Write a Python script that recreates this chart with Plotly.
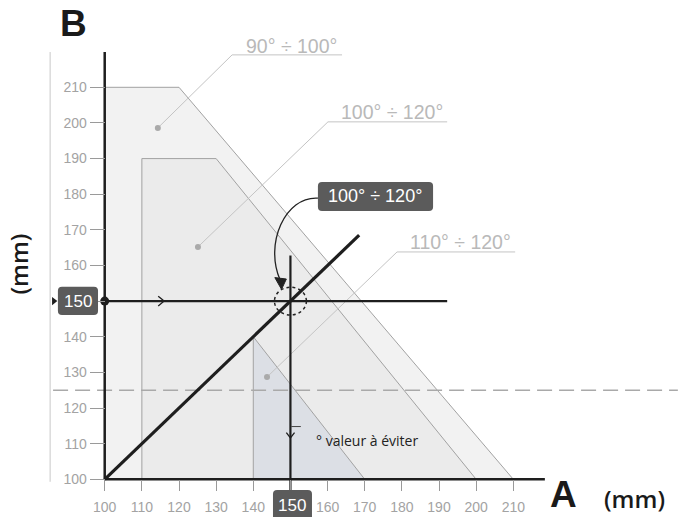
import plotly.graph_objects as go

# ---------------- data ----------------
tick_vals = [100, 110, 120, 130, 140, 150, 160, 170, 180, 190, 200, 210]
tick_text = [str(v) if v != 150 else "" for v in tick_vals]

# zones (A, B in mm)
zone1_x = [100, 100, 120, 210]          # 90° ÷ 100°
zone1_y = [100, 210, 210, 100]
zone2_x = [110, 110, 130, 200]          # 100° ÷ 120°
zone2_y = [100, 190, 190, 100]
zone3_x = [140, 140, 170]               # 110° ÷ 120°
zone3_y = [100, 140, 100]

zone_labels = ["90° ÷ 100°", "100° ÷ 120°", "110° ÷ 120°"]
label_x = [150.2, 177.4, 195.7]
label_y = [221.6, 203.1, 166.6]
leader_x = [[114.3, 134.3, 163.9], [125.1, 160.1, 192.2], [143.7, 178.7, 210.5]]
leader_y = [[198.6, 219.1, 219.1], [165.2, 200.3, 200.3], [128.7, 163.8, 163.8]]

# example reading A=150, B=150
ex_A = 150
ex_B = 150
diag_x = [100, 168.5]
diag_y = [100, 168.5]
hline_x = [100, 192.2]
vline_y = [97.0, 162.8]
limit_B = 125          # dashed limit
axis_top = 219.9
axis_right = 218.5

fig = go.Figure()

GRAY_EDGE = "#a2a2a2"
fills = [("#f2f2f2", zone1_x, zone1_y), ("#ebebeb", zone2_x, zone2_y), ("#dcdfe5", zone3_x, zone3_y)]
for col, xs, ys in fills:
    fig.add_trace(go.Scatter(x=xs + [xs[0]], y=ys + [ys[0]], mode="lines", fill="toself",
                             fillcolor=col, line=dict(color=GRAY_EDGE, width=1), hoverinfo="skip"))

# left thin gray line
fig.add_trace(go.Scatter(x=[85.3, 85.3], y=[99.3, axis_top], mode="lines",
                         line=dict(color="#c8c8c8", width=1), hoverinfo="skip"))

# leaders
for lx, ly in zip(leader_x, leader_y):
    fig.add_trace(go.Scatter(x=lx, y=ly, mode="lines", line=dict(color="#c4c4c4", width=1), hoverinfo="skip"))
    fig.add_trace(go.Scatter(x=[lx[0]], y=[ly[0]], mode="markers",
                             marker=dict(color="#aaaaaa", size=6), hoverinfo="skip"))

# dashed limit line
fig.add_trace(go.Scatter(x=[86.1, 254.3], y=[limit_B, limit_B], mode="lines",
                         line=dict(color="#a9a9a9", width=1.5, dash="15px,7px"), hoverinfo="skip"))

# axes lines
fig.add_trace(go.Scatter(x=[100, 100], y=[axis_top, 100], mode="lines",
                         line=dict(color="#1e1e1e", width=2.5), hoverinfo="skip"))
fig.add_trace(go.Scatter(x=[100, axis_right], y=[100, 100], mode="lines",
                         line=dict(color="#1e1e1e", width=2.5), hoverinfo="skip"))

# reading lines
fig.add_trace(go.Scatter(x=diag_x, y=diag_y, mode="lines", line=dict(color="#1e1e1e", width=3.2), hoverinfo="skip"))
fig.add_trace(go.Scatter(x=hline_x, y=[ex_B, ex_B], mode="lines", line=dict(color="#1e1e1e", width=2.2), hoverinfo="skip"))
fig.add_trace(go.Scatter(x=[ex_A, ex_A], y=vline_y, mode="lines", line=dict(color="#1e1e1e", width=2.2), hoverinfo="skip"))
fig.add_trace(go.Scatter(x=[100], y=[ex_B], mode="markers", marker=dict(color="#1e1e1e", size=9), hoverinfo="skip"))
fig.add_trace(go.Scatter(x=[86.3], y=[ex_B], mode="markers", cliponaxis=False,
                         marker=dict(color="#1e1e1e", size=7, symbol="triangle-right"), hoverinfo="skip"))

# chevrons on reading lines
fig.add_trace(go.Scatter(x=[114.4, 116.0, 114.4], y=[151.4, 150, 148.6], mode="lines",
                         line=dict(color="#1e1e1e", width=1.3), hoverinfo="skip"))
fig.add_trace(go.Scatter(x=[148.9, 150, 151.1], y=[113.1, 111.6, 113.1], mode="lines",
                         line=dict(color="#1e1e1e", width=1.3), hoverinfo="skip"))
fig.add_trace(go.Scatter(x=[150.2, 152.8], y=[114.8, 114.8], mode="lines",
                         line=dict(color="#444", width=1), hoverinfo="skip"))


def rrect(x0, y0, x1, y1, rx, ry):
    return (f"M {x0+rx},{y0} L {x1-rx},{y0} Q {x1},{y0} {x1},{y0+ry} L {x1},{y1-ry} "
            f"Q {x1},{y1} {x1-rx},{y1} L {x0+rx},{y1} Q {x0},{y1} {x0},{y1-ry} "
            f"L {x0},{y0+ry} Q {x0},{y0} {x0+rx},{y0} Z")


BOX = "#5b5b5b"
shapes = [
    dict(type="path", path=rrect(157.4, 175.3, 188.4, 183.4, 1.1, 1.1), fillcolor=BOX, line=dict(width=0)),
    dict(type="path", path=rrect(87.4, 146.1, 98.2, 154.0, 1.1, 1.1), fillcolor=BOX, line=dict(width=0)),
    dict(type="path", path=rrect(145.3, 87.2, 155.8, 97.0, 1.1, 1.1), fillcolor=BOX, line=dict(width=0)),
    dict(type="circle", x0=145.7, x1=154.3, y0=146.1, y1=153.9,
         line=dict(color="#222", width=1.5, dash="dot")),
    dict(type="path", path="M 157.4,178.9 C 148.5,179.5 143.0,166.0 147.2,156.0",
         line=dict(color="#222", width=1.3)),
    dict(type="path", path="M 145.8,156.6 L 148.9,156.2 L 147.6,153.3 Z",
         fillcolor="#222", line=dict(color="#222", width=1)),
]
for s in shapes:
    s.update(xref="x", yref="y", layer="above")
fig.update_layout(shapes=shapes)

ann = []
for t, x, y in zip(zone_labels, label_x, label_y):
    ann.append(dict(x=x, y=y, text=t, showarrow=False,
                    font=dict(family="Liberation Sans", size=19.5, color="#b9b9b9")))
ann += [
    dict(x=172.9, y=179.4, text="100° ÷ 120°", showarrow=False,
         font=dict(family="Liberation Sans", size=18, color="white")),
    dict(x=92.8, y=150, text="150", showarrow=False,
         font=dict(family="Liberation Sans", size=17, color="white")),
    dict(x=150.5, y=92.65, text="150", showarrow=False,
         font=dict(family="Liberation Sans", size=17, color="white")),
    dict(x=156.3, y=111.0, text="° valeur à éviter", showarrow=False, xanchor="left",
         font=dict(family="Open Sans", size=14, color="#222")),
    dict(x=91.5, y=227.9, text="<b>B</b>", showarrow=False,
         font=dict(family="Liberation Sans", size=37, color="#1a1a1a")),
    dict(x=223.4, y=95.6, text="<b>A</b>", showarrow=False,
         font=dict(family="Liberation Sans", size=37, color="#1a1a1a")),
    dict(x=242.5, y=94.5, text="(mm)", showarrow=False,
         font=dict(family="Open Sans", size=24, color="#1a1a1a", weight=600)),
    dict(x=76.8, y=160.4, text="(mm)", showarrow=False, textangle=-90,
         font=dict(family="Open Sans", size=24, color="#1a1a1a", weight=600)),
]

fig.update_layout(
    width=678, height=517,
    margin=dict(l=0, r=0, t=0, b=0),
    paper_bgcolor="white", plot_bgcolor="white",
    showlegend=False,
    annotations=ann,
    xaxis=dict(range=[71.81, 254.34], anchor="free", position=0.0729,
               tickvals=tick_vals, ticktext=tick_text, ticks="outside", ticklen=11,
               tickcolor="#9a9a9a", tickwidth=1, showgrid=False, zeroline=False, showline=False,
               tickfont=dict(family="Liberation Sans", size=14, color="#a3a3a3"),
               ticklabelstandoff=4, fixedrange=True),
    yaxis=dict(range=[89.42, 234.50], anchor="free", position=0.1544,
               tickvals=tick_vals, ticktext=tick_text, ticks="outside", ticklen=15,
               tickcolor="#9a9a9a", tickwidth=1, showgrid=False, zeroline=False, showline=False,
               tickfont=dict(family="Liberation Sans", size=14, color="#a3a3a3"),
               fixedrange=True),
)

fig.write_html("out.html", config={"displayModeBar": False},
               post_script="document.body.style.margin='0px';document.body.style.overflow='hidden';")
